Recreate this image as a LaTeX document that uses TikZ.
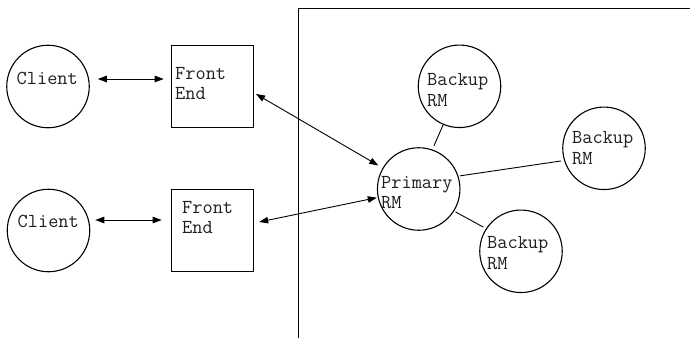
\documentclass[tikz,border=0pt]{standalone}
\usetikzlibrary{arrows.meta}
\tikzset{
  circ/.style={draw, circle, line width=1.1pt, minimum size=82.5pt, inner sep=0pt},
  febox/.style={draw, rectangle, line width=1.1pt, minimum width=82.5pt, minimum height=82.5pt, inner sep=0pt},
  txt/.style={anchor=base west, inner sep=0pt, font=\ttfamily\fontsize{19.8}{20.5}\selectfont, text=black!88},
  conn/.style={line width=0.9pt},
  biarrow/.style={conn, {Triangle[length=9pt,width=6.5pt]}-{Triangle[length=9pt,width=6.5pt]}},
  frame/.style={line width=1pt}
}
\begin{document}
\begin{tikzpicture}[x=1pt,y=-1pt]
\useasboundingbox (0,0) rectangle (690,338);
% frame
\draw[frame] (298.3,338) -- (298.3,8) -- (690,8);
% shapes
\node[circ] (c1) at (48,86.5) {};
\node[circ] (c2) at (48.5,230.5) {};
\node[febox] (fe1) at (212.5,86.5) {};
\node[febox] (fe2) at (212.5,230.5) {};
\node[circ] (prim) at (418.7,189) {};
\node[circ] (bk1) at (459.5,86.3) {};
\node[circ] (bk2) at (604,148.3) {};
\node[circ] (bk3) at (521,251.3) {};
% texts
\node[txt] (c1t) at (16.5,84.5) {Client};
\node[txt] (c2t) at (17.5,227.7) {Client};
\node[txt] (fe1t) at (175,79) {\begin{tabular}[t]{@{}l@{}}Front\\End\end{tabular}};
\node[txt] (fe2t) at (182,213.3) {\begin{tabular}[t]{@{}l@{}}Front\\End\end{tabular}};
\node[txt] (primt) at (381,188.3) {\begin{tabular}[t]{@{}l@{}}Primary\\RM\end{tabular}};
\node[txt] (bk1t) at (427,85.5) {\begin{tabular}[t]{@{}l@{}}Backup\\RM\end{tabular}};
\node[txt] (bk2t) at (572,143.8) {\begin{tabular}[t]{@{}l@{}}Backup\\RM\end{tabular}};
\node[txt] (bk3t) at (487,248.8) {\begin{tabular}[t]{@{}l@{}}Backup\\RM\end{tabular}};
% connectors
\draw[biarrow, shorten <=8pt, shorten >=7pt] ([yshift=7.5]c1.east) -- ([yshift=7.5]fe1.west);
\draw[biarrow, shorten <=5pt, shorten >=9pt] ([yshift=10.5]c2.east) -- ([yshift=10.5]fe2.west);
\draw[biarrow, shorten <=2pt, shorten >=5pt] ([yshift=-6.5]fe1.east) -- (prim);
\draw[biarrow, shorten <=5pt, shorten >=1pt] ([yshift=7.5]fe2.east) -- (prim);
\draw[conn, shorten <=4pt] (prim.71) -- (bk1.247);
\draw[conn, shorten <=1.5pt, shorten >=3pt] (prim.18) -- (bk2.197);
\draw[conn, shorten <=1.5pt, shorten >=3pt] (prim.328) -- (bk3.147);
\end{tikzpicture}
\end{document}
